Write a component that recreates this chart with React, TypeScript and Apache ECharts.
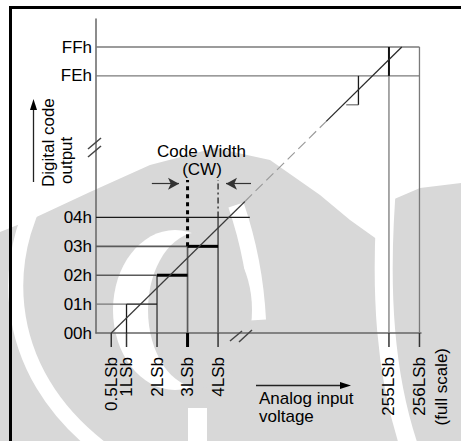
import React, { useEffect, useRef } from 'react';
import * as echarts from 'echarts';

// ---------- data (LSb on x, output code on y) ----------
const codeLabels = ['00h', '01h', '02h', '03h', '04h', 'FEh', 'FFh'];
const codeValues = [0, 1, 2, 3, 4, 254, 255];
const lsbLabels = ['0.5LSb', '1LSb', '2LSb', '3LSb', '4LSb', '255LSb', '256LSb'];
const lsbValues = [0.5, 1, 2, 3, 4, 255, 256];

// axis breaks: values above BREAK are shifted down to sit beside the low range
const BREAK = 100;
const X_SHIFT = 245.4;
const Y_SHIFT = 245.1;
const X_MAX = 10.65;
const Y_MAX = 10.87;
const TICK_LEN = 0.485; // in code units below the x axis

// ideal transfer line
const idealLine: number[][] = [[0.5, 0], [255.42, 255]];
const fadedPart = [0.46, 0.74];

// staircase and guide segments [[lsb, code], [lsb, code]]
const lightGuides: number[][][] = [
  [[0, 1], [1, 1]],
  [[0, 254], [256, 254]],
  [[0, 255], [256, 255]],
  [[255, 0], [255, 254]],
  [[256, 0], [256, 255]],
  [[253.6, 253], [254, 253]],
];
const mediumGuides: number[][][] = [
  [[0, 2], [2, 2]],
  [[0, 3], [3, 3]],
  [[2, 0], [2, 2]],
  [[3, 0], [3, 3]],
  [[4, 0], [4, 4]],
];
const darkThin: number[][][] = [
  [[0, 4], [5.04, 4]],
  [[1, 0], [1, 1]],
  [[1, 1], [2, 1]],
  [[254, 253], [254, 254]],
];
const boldSteps: number[][][] = [
  [[2, 2], [3, 2]],
  [[3, 3], [4, 3]],
];
const darkRiser: number[][][] = [[[255, 254], [255, 255]]];
const boldTickAt = 3;

// code width marker
const cwTop = 5.3;
const cwArrowY = 5.17;
const cwLeftArrow = [1.83, 2.72];
const cwRightArrow = [5.08, 4.26];

const FONT = '"Liberation Sans", Arial, Helvetica, sans-serif';

const mx = (v: number) => (v > BREAK ? v - X_SHIFT : v);
const my = (v: number) => (v > BREAK ? v - Y_SHIFT : v);
const pt = (p: number[]) => [mx(p[0]), my(p[1])];

function seg(a: number[], b: number[], lineStyle: any, z = 3) {
  return {
    type: 'line',
    data: [a, b],
    symbol: 'none',
    silent: true,
    clip: false,
    lineStyle,
    z,
  };
}

function buildOption() {
  const series: any[] = [];
  const add = (list: number[][][], style: any, z = 3) =>
    list.forEach((s) => series.push(seg(pt(s[0]), pt(s[1]), style, z)));

  add(lightGuides, { color: '#7a7a7a', width: 1.3 });
  add(mediumGuides, { color: '#5a5a5a', width: 1.7 });
  add(darkThin, { color: '#1a1a1a', width: 1.3 }, 4);
  add(boldSteps, { color: '#000', width: 3 }, 5);
  add(darkRiser, { color: '#111', width: 2 }, 5);

  // x ticks below the axis
  lsbValues.forEach((v) => {
    const bold = v === boldTickAt;
    series.push(
      seg([mx(v), 0], [mx(v), -TICK_LEN], { color: bold ? '#000' : '#333', width: bold ? 3 : 1.5 }, 5)
    );
  });

  // ideal line split into solid / faint / solid pieces
  const A = pt(idealLine[0]);
  const B = pt(idealLine[1]);
  const at = (t: number) => [A[0] + (B[0] - A[0]) * t, A[1] + (B[1] - A[1]) * t];
  series.push(seg(A, at(fadedPart[0]), { color: '#3a3a3a', width: 1.2 }, 6));
  series.push(seg(at(fadedPart[0]), at(fadedPart[1]), { color: '#9a9a9a', width: 1.2, type: [10, 5] }, 6));
  series.push(seg(at(fadedPart[1]), B, { color: '#2a2a2a', width: 1.3 }, 6));

  // code width marker lines
  series.push(seg([3, 3], [3, cwTop], { color: '#000', width: 3, type: [4, 4] }, 5));
  series.push(seg([4, 4], [4, cwTop], { color: '#222', width: 1.3, type: [6, 3, 2, 3] }, 5));
  series.push({
    type: 'line',
    data: [],
    silent: true,
    markLine: {
      silent: true,
      symbol: ['none', 'arrow'],
      symbolSize: [9, 11],
      label: { show: false },
      lineStyle: { color: '#333', width: 1.2, type: 'solid' },
      data: [
        [{ coord: [cwLeftArrow[0], cwArrowY] }, { coord: [cwLeftArrow[1], cwArrowY] }],
        [{ coord: [cwRightArrow[0], cwArrowY] }, { coord: [cwRightArrow[1], cwArrowY] }],
      ],
    },
  });

  const findLabel = (vals: number[], labels: string[], map: (n: number) => number) => (v: number) => {
    const i = vals.findIndex((c) => Math.abs(map(c) - v) < 1e-6);
    return i >= 0 ? labels[i] : '';
  };

  const wmGray = '#d8d8d8';
  const graphic: any[] = [
    // watermark
    {
      type: 'polygon', silent: true, z: -10,
      shape: {
        points: [
          [0, 232], [30, 220], [90, 192], [150, 165], [215, 148], [270, 160], [320, 195],
          [350, 220], [378, 240], [392, 200], [420, 188], [461, 183], [461, 441], [0, 441],
        ],
      },
      style: { fill: wmGray },
    },
    {
      type: 'bezierCurve', silent: true, z: -9,
      shape: { x1: 55, y1: 170, cpx1: 0, cpy1: 240, cpx2: -10, cpy2: 370, x2: 110, y2: 455 },
      style: { stroke: '#fff', lineWidth: 15, fill: null },
    },
    {
      type: 'bezierCurve', silent: true, z: -9,
      shape: { x1: 388, y1: 175, cpx1: 378, cpy1: 290, cpx2: 385, cpy2: 380, x2: 412, y2: 455 },
      style: { stroke: '#fff', lineWidth: 18, fill: null },
    },
    {
      type: 'bezierCurve', silent: true, z: -9,
      shape: { x1: 236, y1: 205, cpx1: 248, cpy1: 240, cpx2: 256, cpy2: 280, x2: 258, y2: 320 },
      style: { stroke: '#fff', lineWidth: 16, fill: null },
    },
    {
      type: 'ellipse', silent: true, z: -9,
      shape: { cx: 175, cy: 310, rx: 62, ry: 80 },
      style: { fill: '#fff' },
    },
    {
      type: 'ellipse', silent: true, z: -8,
      shape: { cx: 200, cy: 310, rx: 52, ry: 78 },
      style: { fill: wmGray },
    },
    {
      type: 'rect', silent: true, z: -8,
      shape: { x: 188, y: 408, width: 19, height: 40 },
      style: { fill: '#fff' },
    },
    // frame
    { type: 'line', silent: true, z: 20, shape: { x1: 9, y1: 7.5, x2: 461, y2: 7.5 }, style: { stroke: '#000', lineWidth: 3 } },
    { type: 'line', silent: true, z: 20, shape: { x1: 10.5, y1: 6, x2: 10.5, y2: 441 }, style: { stroke: '#000', lineWidth: 3 } },
    // axis break marks
    { type: 'line', silent: true, z: 20, shape: { x1: 88, y1: 149, x2: 101, y2: 138 }, style: { stroke: '#444', lineWidth: 1.5 } },
    { type: 'line', silent: true, z: 20, shape: { x1: 88, y1: 157, x2: 101, y2: 146 }, style: { stroke: '#444', lineWidth: 1.5 } },
    { type: 'line', silent: true, z: 20, shape: { x1: 230, y1: 341, x2: 242, y2: 331 }, style: { stroke: '#444', lineWidth: 1.5 } },
    { type: 'line', silent: true, z: 20, shape: { x1: 239, y1: 342, x2: 252, y2: 330 }, style: { stroke: '#444', lineWidth: 1.5 } },
    // texts
    {
      type: 'text', z: 20, x: 201.5, y: 151,
      style: { text: 'Code Width', fontSize: 17, fontFamily: FONT, fill: '#000', align: 'center', verticalAlign: 'middle' },
    },
    {
      type: 'text', z: 20, x: 202, y: 169.5,
      style: { text: '(CW)', fontSize: 17, fontFamily: FONT, fill: '#000', align: 'center', verticalAlign: 'middle' },
    },
    {
      type: 'text', z: 20, x: 48, y: 187, rotation: Math.PI / 2,
      style: { text: 'Digital code', fontSize: 17, fontFamily: FONT, fill: '#000', align: 'left', verticalAlign: 'middle' },
    },
    {
      type: 'text', z: 20, x: 66, y: 184, rotation: Math.PI / 2,
      style: { text: 'output', fontSize: 17, fontFamily: FONT, fill: '#000', align: 'left', verticalAlign: 'middle' },
    },
    {
      type: 'text', z: 20, x: 259, y: 389.5,
      style: { text: 'Analog input\nvoltage', fontSize: 17, lineHeight: 18, fontFamily: FONT, fill: '#000', align: 'left', verticalAlign: 'top' },
    },
    {
      type: 'text', z: 20, x: 441, y: 348, rotation: Math.PI / 2,
      style: { text: '(full scale)', fontSize: 17, fontFamily: FONT, fill: '#000', align: 'right', verticalAlign: 'middle' },
    },
    // direction arrows
    { type: 'line', silent: true, z: 20, shape: { x1: 33.5, y1: 182, x2: 33.5, y2: 108 }, style: { stroke: '#222', lineWidth: 1.3 } },
    { type: 'polygon', silent: true, z: 20, shape: { points: [[33.5, 99], [30, 110], [37, 110]] }, style: { fill: '#000' } },
    { type: 'line', silent: true, z: 20, shape: { x1: 256, y1: 385.5, x2: 342, y2: 385.5 }, style: { stroke: '#222', lineWidth: 1.3 } },
    { type: 'polygon', silent: true, z: 20, shape: { points: [[351, 385.5], [340, 382], [340, 389]] }, style: { fill: '#000' } },
  ];

  // x labels split over two identical axes (alternating) so close labels are never dropped
  const xLabelAxis = (parity: number, main: boolean) => ({
    type: 'value',
    min: 0,
    max: X_MAX,
    position: 'bottom',
    offset: 0,
    axisLine: main ? { show: true, onZero: false, lineStyle: { color: '#666', width: 1.5 } } : { show: false },
    splitLine: { show: false },
    axisTick: { show: false },
    axisLabel: {
      show: true,
      customValues: lsbValues.filter((_, i) => i % 2 === parity).map(mx),
      showMinLabel: true,
      showMaxLabel: true,
      hideOverlap: false,
      rotate: 90,
      margin: 24,
      fontSize: 17,
      fontFamily: FONT,
      color: '#000',
      formatter: findLabel(lsbValues, lsbLabels, mx),
    },
  });

  return {
    animation: false,
    backgroundColor: '#fff',
    grid: { left: 96, top: 19, width: 325, height: 314, containLabel: false },
    xAxis: [xLabelAxis(0, true), xLabelAxis(1, false)],
    yAxis: {
      type: 'value',
      min: 0,
      max: Y_MAX,
      axisLine: { show: true, lineStyle: { color: '#666', width: 1.5 } },
      splitLine: { show: false },
      axisTick: { show: false },
      axisLabel: {
        show: true,
        customValues: codeValues.map(my),
        showMinLabel: true,
        showMaxLabel: true,
        margin: 4,
        fontSize: 17,
        fontFamily: FONT,
        color: '#000',
        formatter: findLabel(codeValues, codeLabels, my),
      },
    },
    series,
    graphic,
  };
}

export default function App() {
  const ref = useRef<HTMLDivElement>(null);
  useEffect(() => {
    if (!ref.current) return;
    const chart = echarts.init(ref.current, undefined, { renderer: 'svg' });
    chart.setOption(buildOption() as any);
    return () => chart.dispose();
  }, []);
  return (
    <div
      ref={ref}
      style={{ position: 'fixed', left: 0, top: 0, width: 461, height: 441, background: '#fff' }}
    />
  );
}
